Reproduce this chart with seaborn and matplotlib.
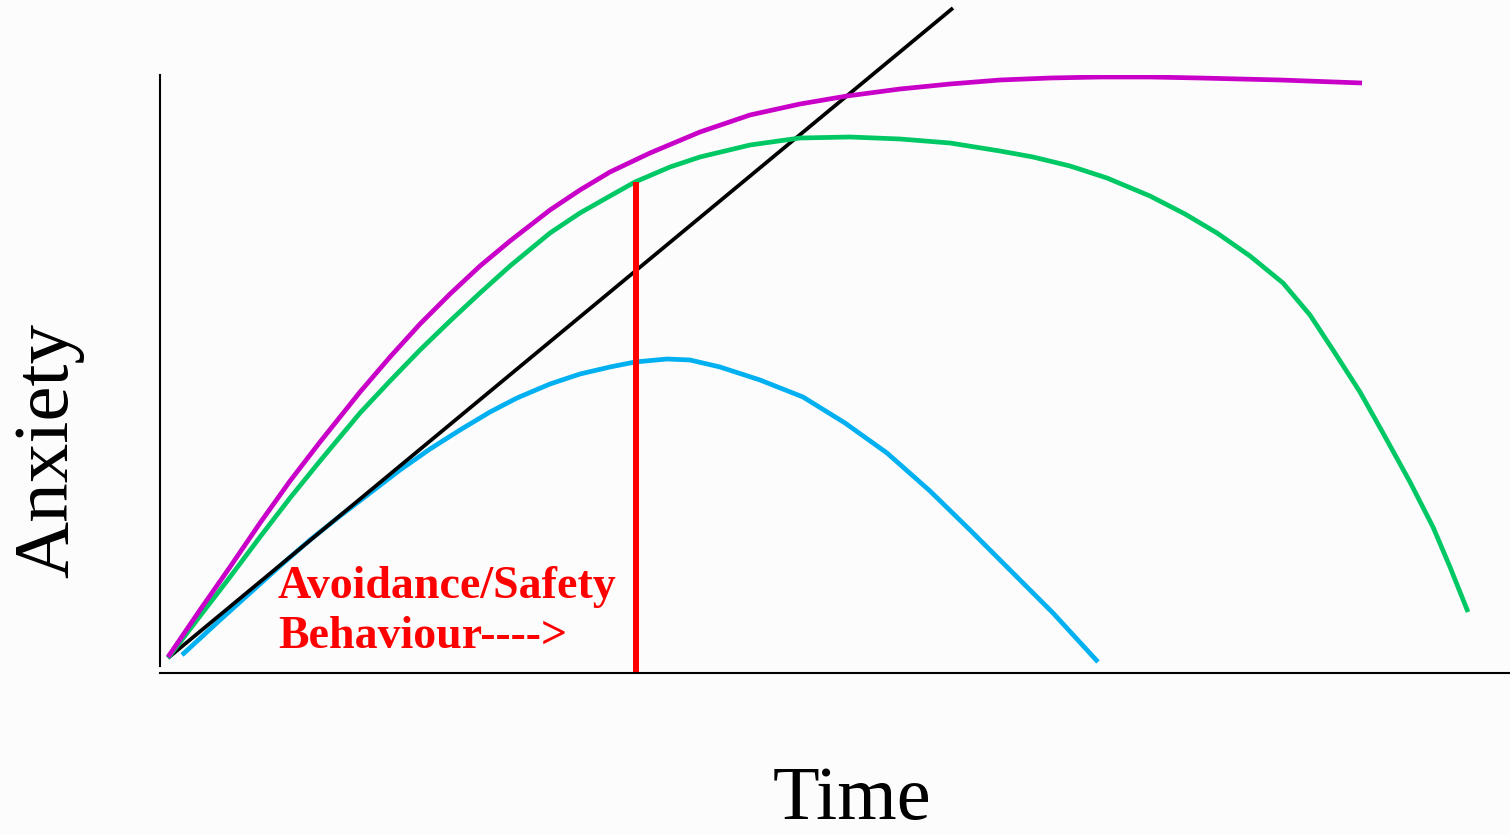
import numpy as np
import pandas as pd
import matplotlib
matplotlib.use("Agg")
import matplotlib.pyplot as plt
import seaborn as sns

# ---- data (time, anxiety); origin at the axes corner ----
magenta_t = [8, 40, 70, 100, 130, 160, 200, 230, 260, 290, 320, 350, 390, 420, 450, 490, 540, 590, 640,
             687, 740, 790, 840, 890, 940, 990, 1040, 1120, 1202]
magenta_a = [16, 63, 106, 150, 192, 231, 281, 316, 349, 379, 407, 432, 463, 483, 501, 520, 541, 558, 569,
             577, 584, 589, 593, 595, 596, 596, 595, 593, 590]

green_t = [8, 40, 70, 100, 130, 160, 200, 230, 260, 290, 320, 350, 390, 420, 450, 475, 510, 540, 590, 640,
           690, 740, 790, 840, 873, 910, 947, 990, 1025, 1057, 1090, 1123, 1150, 1173, 1200, 1223, 1250,
           1273, 1290, 1308]
green_a = [15, 57, 96, 136, 175, 212, 260, 292, 323, 352, 380, 407, 440, 460, 477, 491, 506, 516, 528, 535,
           536, 534, 530, 522, 516, 507, 495, 477, 459, 440, 417, 390, 358, 323, 281, 240, 191,
           146, 106, 61]

blue_t = [22, 60, 90, 120, 150, 180, 210, 240, 270, 300, 330, 357, 390, 420, 450, 475, 507, 530, 560, 600,
          643, 685, 727, 770, 810, 850, 893, 938]
blue_a = [18, 53, 80, 107, 133, 157, 180, 203, 224, 243, 261, 275, 289, 299, 306, 311, 314, 313, 306, 293,
          276, 250, 220, 182, 143, 103, 60, 11]

black_t = [8, 793]
black_a = [15, 665]

threshold_t = [476, 476]
threshold_a = [0, 491]

sns.set_theme(style="white")
plt.rcParams["font.family"] = ["Liberation Serif", "DejaVu Serif"]

bg = "#fcfcfc"
fig = plt.figure(figsize=(15.1, 8.35), dpi=100, facecolor=bg)
ax = fig.add_axes([160 / 1510, (835 - 673) / 835, 1350 / 1510, (673 - 75) / 835])
ax.set_facecolor(bg)
ax.set_xlim(0, 1350)
ax.set_ylim(0, 598)

def curve(t, a, color, lw, clip=True):
    df = pd.DataFrame({"Time": t, "Anxiety": a})
    sns.lineplot(data=df, x="Time", y="Anxiety", ax=ax, color=color, linewidth=lw,
                 sort=False, estimator=None, clip_on=clip, solid_capstyle="butt",
                 solid_joinstyle="round")

curve(blue_t, blue_a, "#00B0F0", 3.4)
curve(black_t, black_a, "#000000", 2.7, clip=False)
curve(green_t, green_a, "#00C864", 3.4)
curve(magenta_t, magenta_a, "#C800C8", 3.4)
curve(threshold_t, threshold_a, "#FF0000", 4.3)

# spines
for s in ["top", "right"]:
    ax.spines[s].set_visible(False)
for s in ["left", "bottom"]:
    ax.spines[s].set_color("black")
    ax.spines[s].set_linewidth(1.5)
ax.spines["left"].set_bounds(7, 598)
ax.set_xticks([])
ax.set_yticks([])

ax.text(118, 75, "Avoidance/Safety", color="#FF0000", fontsize=33, fontweight="bold", va="baseline", ha="left")
ax.text(118, 25, "Behaviour---->", color="#FF0000", fontsize=33, fontweight="bold", va="baseline", ha="left")

ax.set_xlabel("Time", fontsize=55, color="black")
ax.xaxis.label.set_va("baseline")
ax.xaxis.set_label_coords((852 - 160) / 1350, (673 - 819) / 598)

ax.set_ylabel("Anxiety", fontsize=57, color="black")
ax.yaxis.label.set_rotation_mode("anchor")
ax.yaxis.label.set_va("baseline")
ax.yaxis.label.set_ha("center")
ax.yaxis.set_label_coords((67 - 160) / 1350, (673 - 451) / 598)

fig.savefig("out.png", dpi=100, facecolor=bg)
